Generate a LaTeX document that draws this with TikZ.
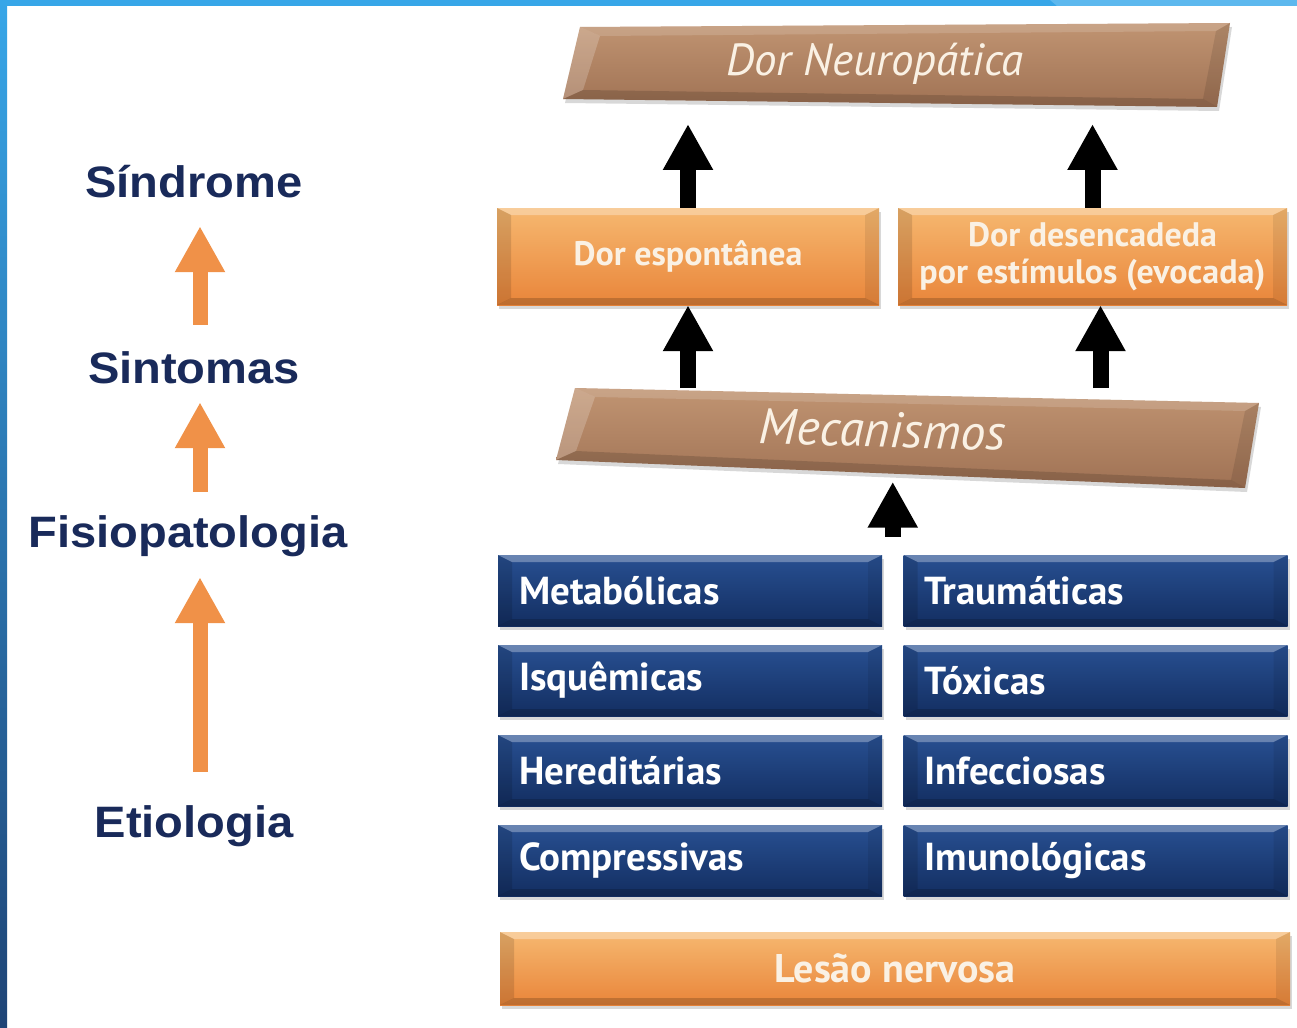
\documentclass[tikz,border=0pt]{standalone}
\usepackage{fontspec}
\setmainfont{Liberation Sans}
\newfontfamily\lblfont[FakeStretch=1.07]{Liberation Sans}
\newfontfamily\boxfont{PT Sans}
\usetikzlibrary{arrows.meta, shadows, calc}

\definecolor{navy}{RGB}{25,42,90}
\definecolor{arrorange}{RGB}{240,145,72}
\definecolor{orgtop}{RGB}{246,184,112}
\definecolor{orgbot}{RGB}{233,133,58}
\definecolor{brntop}{RGB}{192,148,114}
\definecolor{brnbot}{RGB}{160,114,84}
\definecolor{blutop}{RGB}{40,80,146}
\definecolor{blubot}{RGB}{19,46,97}
\definecolor{cream}{RGB}{250,241,228}
\definecolor{barblue}{RGB}{55,166,232}
\definecolor{barlight}{RGB}{93,184,238}
\definecolor{bardark}{RGB}{31,68,118}

\tikzset{
  lbl/.style={font=\lblfont\bfseries\fontsize{44}{48}\selectfont, text=navy,
    anchor=base, inner sep=0pt, text height=32pt, text depth=9pt},
  orgarrow/.style={draw=arrorange, line width=15pt, -{Triangle[width=47pt,length=46pt]}},
  blkarrow/.style={draw=black, line width=16pt, -{Triangle[width=47pt,length=46pt]}},
  boxshadow/.style={drop shadow={opacity=.3, shadow xshift=2pt, shadow yshift=-4pt}},
  bevel/.style={path picture={
    \path (path picture bounding box.north west) coordinate (bnw)
          (path picture bounding box.north east) coordinate (bne)
          (path picture bounding box.south east) coordinate (bse)
          (path picture bounding box.south west) coordinate (bsw);
    \fill[white, opacity=.3] (bnw) -- (bne) -- ($(bne)+(-14,7)$) -- ($(bnw)+(14,7)$) -- cycle;
    \fill[black, opacity=.12] (bnw) -- ($(bnw)+(14,7)$) -- ($(bsw)+(14,-7)$) -- (bsw) -- cycle;
    \fill[black, opacity=.08] (bne) -- ($(bne)+(-14,7)$) -- ($(bse)+(-14,-7)$) -- (bse) -- cycle;
    \fill[black, opacity=.18] (bsw) -- ($(bsw)+(14,-7)$) -- ($(bse)+(-14,-7)$) -- (bse) -- cycle;
  }},
  orgbox/.style={rectangle, top color=orgtop, bottom color=orgbot, bevel, boxshadow,
    text=cream, font=\boxfont\bfseries\fontsize{34}{37}\selectfont, align=center, inner sep=0pt},
  causebox/.style={rectangle, top color=blutop, bottom color=blubot, bevel, boxshadow,
    text=white, font=\boxfont\bfseries\fontsize{39}{42}\selectfont,
    minimum width=384pt, minimum height=71pt, text width=342pt, align=left, inner xsep=21pt},
  slabtext/.style={text=cream, font=\boxfont\itshape\fontsize{45}{49}\selectfont, anchor=base},
  slab/.style={top color=brntop, bottom color=brnbot, boxshadow}
}

\begin{document}
\begin{tikzpicture}[x=1pt, y=-1pt]
%\draw [lightgray, step=100] (0,0) grid (1297,1027);
\fill[white] (0,0) rectangle (1297,1027);
\useasboundingbox (0,0) rectangle (1297,1027);

\fill[barblue] (0,0) rectangle (1297,6);
\fill[barlight] (1050,0) -- (1297,0) -- (1297,6) -- (1057,6) -- cycle;
\shade[top color=barblue, bottom color=bardark] (0,0) rectangle (7,1027);

% left column
\node[lbl] (sind) at (194,197) {Síndrome};
\node[lbl] (sint) at (194,383) {Sintomas};
\node[lbl] (fisio) at (188,547) {Fisiopatologia};
\node[lbl] (etio) at (194,837) {Etiologia};
\coordinate (ax) at (200,0);

\draw[orgarrow, shorten <=26pt, shorten >=20pt] (sint.north -| ax) -- (sind.south -| ax);
\draw[orgarrow, shorten <=23pt, shorten >=10pt] (fisio.north -| ax) -- (sint.south -| ax);
\draw[orgarrow, shorten <=33pt, shorten >=21pt] (etio.north -| ax) -- (fisio.south -| ax);

% slabs
\coordinate (dnnw) at (580,27);
\coordinate (dnne) at (1230,23);
\coordinate (dnse) at (1217,107);
\coordinate (dnsw) at (563,99);
\shade[slab] (dnnw) -- (dnne) -- (dnse) -- (dnsw) -- cycle;
\fill[white, opacity=.2] (dnnw) -- ($(dnnw)+(20,9)$) -- ($(dnsw)+(20,-9)$) -- (dnsw) -- cycle;
\fill[white, opacity=.15] (dnnw) -- (dnne) -- ($(dnne)+(-14,8)$) -- ($(dnnw)+(20,9)$) -- cycle;
\fill[black, opacity=.15] (dnsw) -- ($(dnsw)+(20,-9)$) -- ($(dnse)+(-14,-8)$) -- (dnse) -- cycle;
\fill[black, opacity=.1] (dnne) -- ($(dnne)+(-14,8)$) -- ($(dnse)+(-14,-8)$) -- (dnse) -- cycle;
\node[slabtext] (dn) at (875,76) {Dor Neuropática};

\coordinate (mecnw) at (575,388);
\coordinate (mecne) at (1259,403);
\coordinate (mecse) at (1245,488);
\coordinate (mecsw) at (556,460);
\shade[slab] (mecnw) -- (mecne) -- (mecse) -- (mecsw) -- cycle;
\fill[white, opacity=.2] (mecnw) -- ($(mecnw)+(20,9)$) -- ($(mecsw)+(20,-9)$) -- (mecsw) -- cycle;
\fill[white, opacity=.15] (mecnw) -- (mecne) -- ($(mecne)+(-14,8)$) -- ($(mecnw)+(20,9)$) -- cycle;
\fill[black, opacity=.15] (mecsw) -- ($(mecsw)+(20,-9)$) -- ($(mecse)+(-14,-8)$) -- (mecse) -- cycle;
\fill[black, opacity=.1] (mecne) -- ($(mecne)+(-14,8)$) -- ($(mecse)+(-14,-8)$) -- (mecse) -- cycle;
\node[slabtext, font=\boxfont\itshape\fontsize{50}{54}\selectfont, rotate=-1.6] (mec) at (882,447) {Mecanismos};
\coordinate (mecbot) at ($(mecsw)!.49!(mecse)$);

% symptoms
\node[orgbox, minimum width=382pt, minimum height=97pt] (esp) at (688,256.5) {Dor espontânea};
\node[orgbox, minimum width=389pt, minimum height=97pt] (evo) at (1092.5,256.5) {Dor desencadeda\\por estímulos (evocada)};

\draw[blkarrow, shorten >=25pt] (esp.north) -- (esp.north |- dnsw);
\draw[blkarrow, shorten >=25pt] (evo.north) -- (evo.north |- dnsw);
\draw[blkarrow] (esp.south |- mecnw) -- (esp.south);
\draw[blkarrow] ([xshift=8pt]evo.south |- mecnw) -- ([xshift=8pt]evo.south);

% causes
\foreach \i/\lft/\rgt in {0/Metabólicas/Traumáticas, 1/Isquêmicas/Tóxicas,
    2/Hereditárias/Infecciosas, 3/Compressivas/Imunológicas}{
  \node[causebox] (l\i) at (690,590.5+90*\i) {\lft};
  \node[causebox] (r\i) at (1095.5,590.5+90*\i) {\rgt};
}
\coordinate (grp) at ($(l0.north east)!.5!(r0.north west)$);
\draw[blkarrow, shorten <=18pt, shorten >=8pt] (grp) -- (grp |- mecbot);

\node[orgbox, minimum width=790pt, minimum height=73pt, font=\boxfont\bfseries\fontsize{40}{44}\selectfont] (les) at (895,968.5) {Lesão nervosa};
\end{tikzpicture}
\end{document}
